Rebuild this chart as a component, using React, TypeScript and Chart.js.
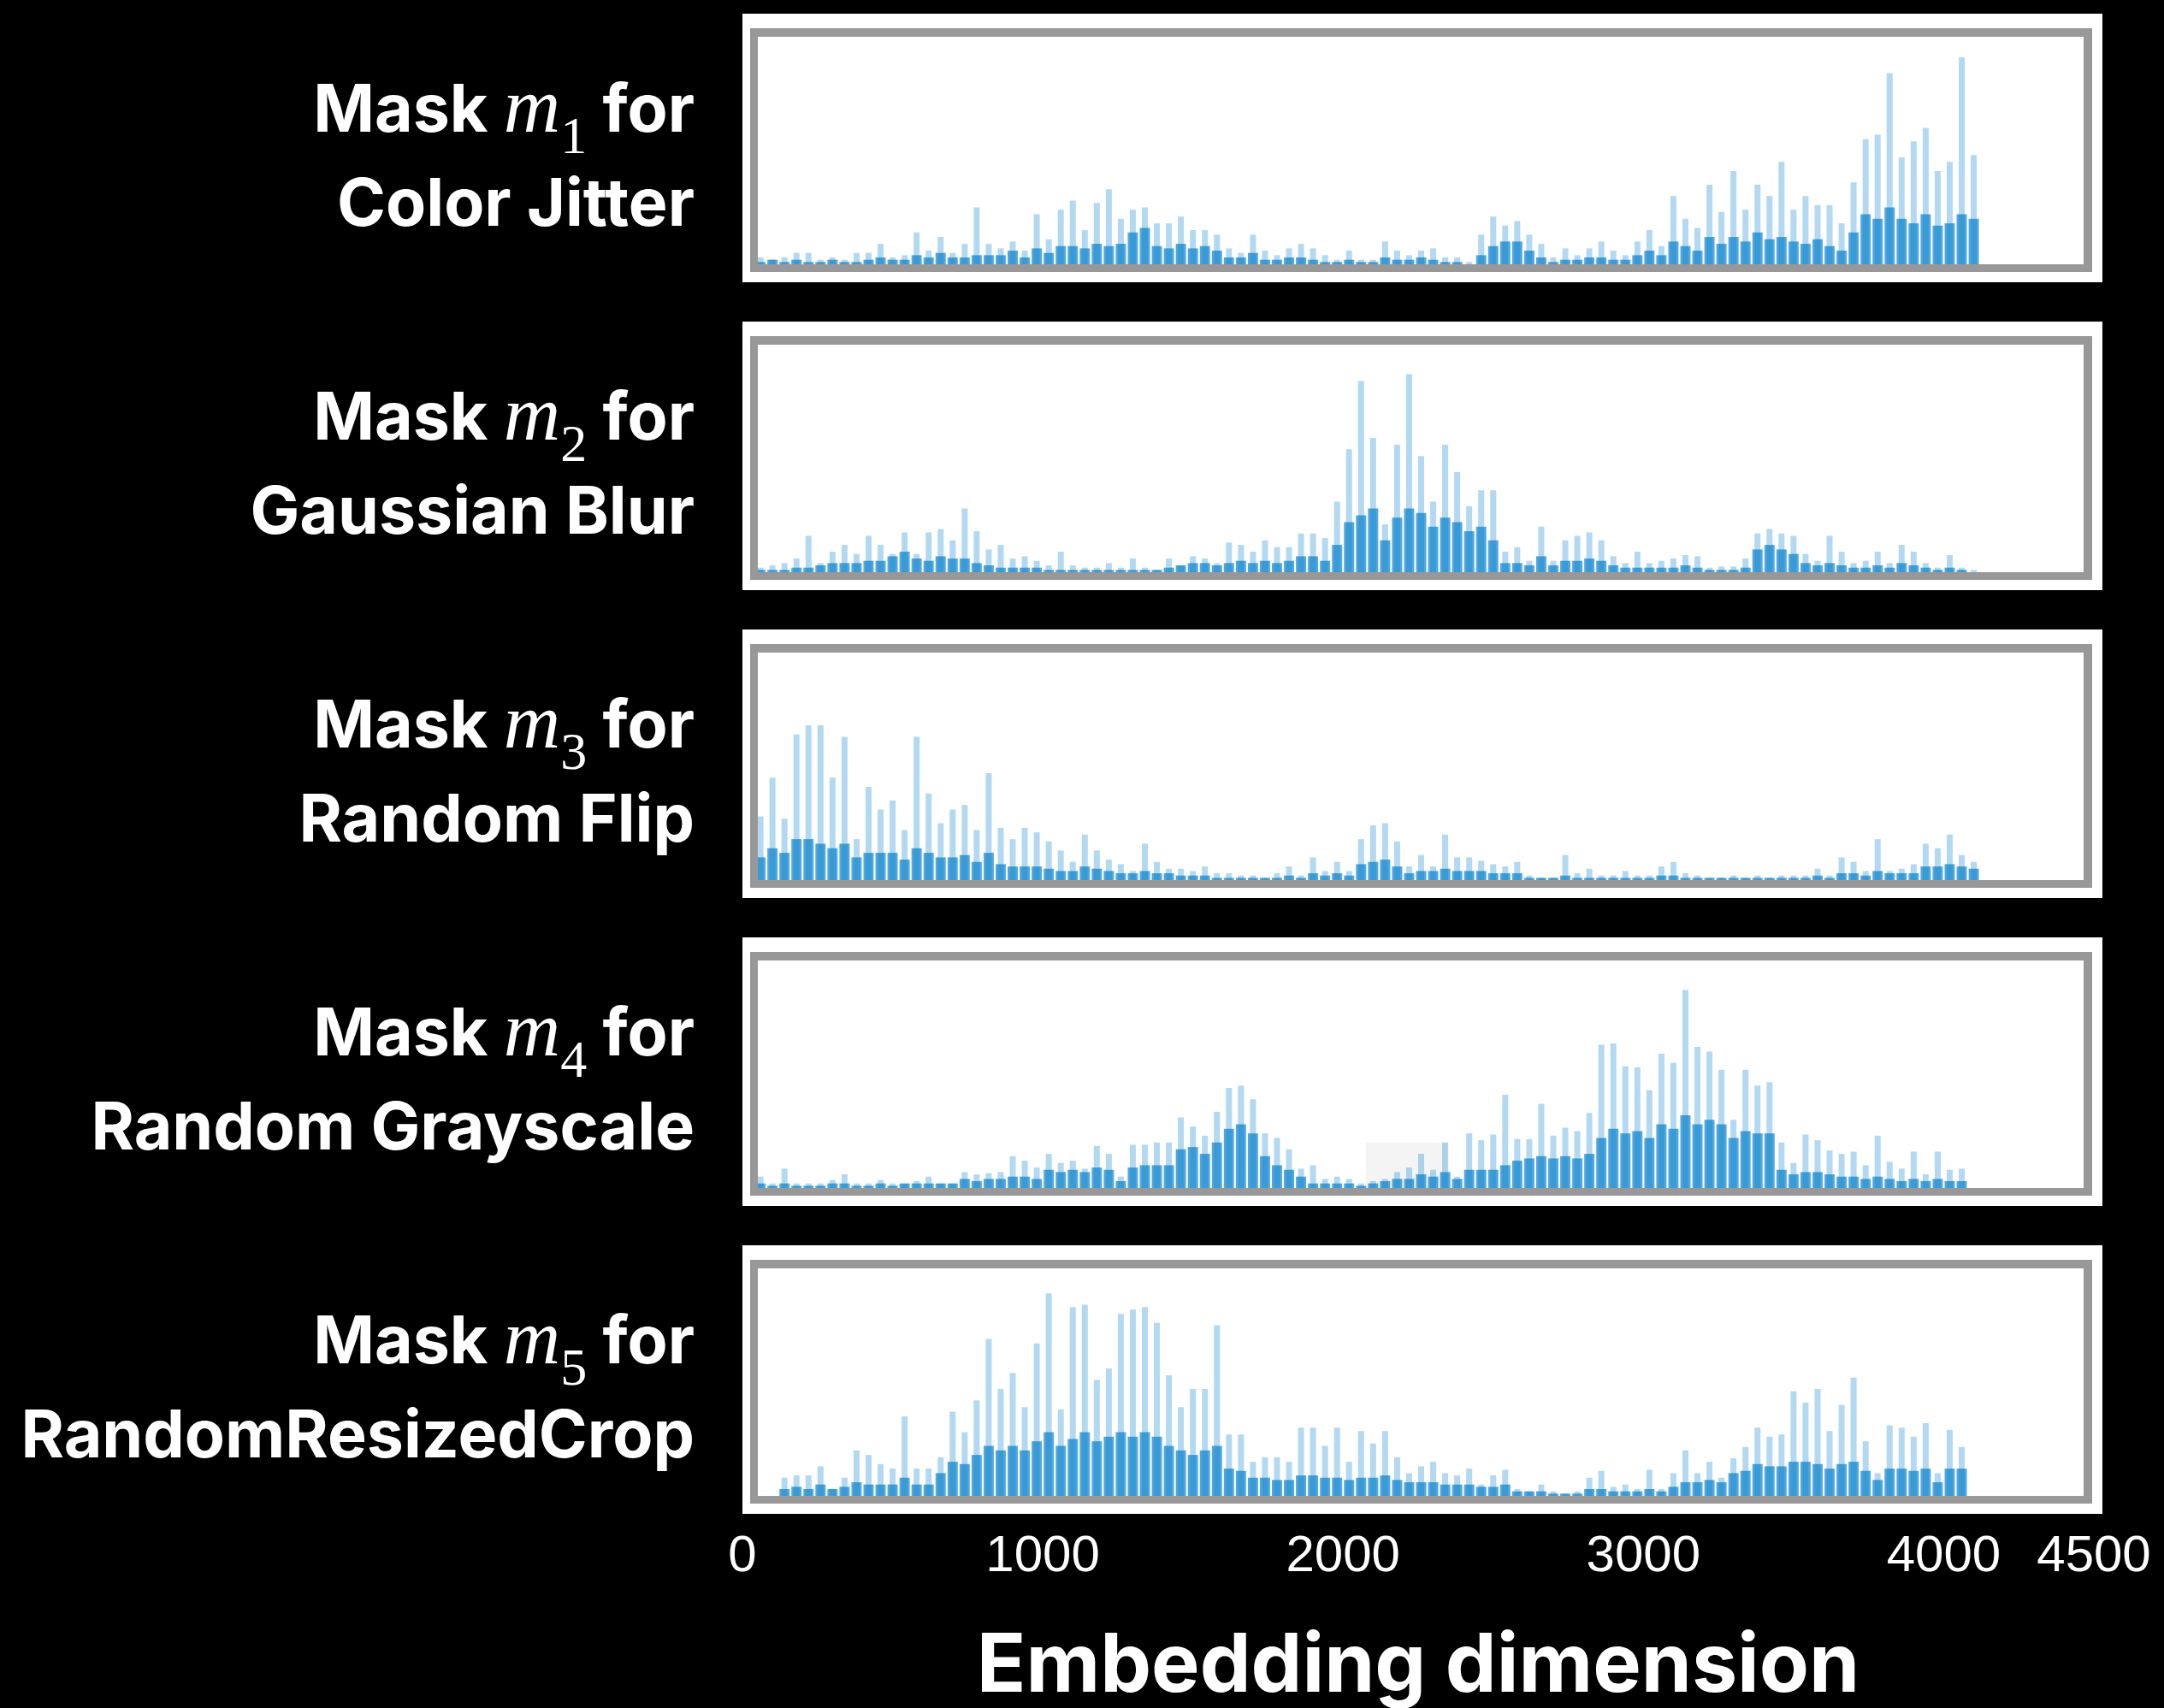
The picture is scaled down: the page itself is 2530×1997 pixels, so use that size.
import React, { useEffect, useRef } from "react";
import { Chart, registerables } from "chart.js";

Chart.register(...registerables);

// ---------- data ----------
// Bars are binned every 40 embedding dimensions, first bin centred at dim 60.
const BIN_START = 60;
const BIN_STEP = 40;
const X_MIN = 0;
const X_MAX = 4500;
const TICK_VALUES = [0, 1000, 2000, 3000, 4000, 4500];
const X_TITLE = "Embedding dimension";

const AUGMENTATIONS = ["Color Jitter", "Gaussian Blur", "Random Flip", "Random Grayscale", "RandomResizedCrop"];
const MASK_INDICES = ["1", "2", "3", "4", "5"];

// mask magnitude (% of panel height): tallest spike per bin, and dense body per bin
const M1_PEAK = [
  3, 2, 3, 5, 5, 2, 3, 2, 5, 5,
  9, 3, 4, 14, 6, 12, 5, 9, 25, 9,
  7, 10, 6, 22, 11, 24, 28, 15, 27, 33,
  20, 24, 25, 18, 18, 21, 15, 15, 13, 7,
  5, 13, 6, 4, 7, 9, 7, 4, 2, 6,
  2, 2, 10, 6, 4, 6, 7, 3, 3, 1,
  13, 21, 17, 19, 13, 9, 3, 7, 4, 7,
  10, 6, 4, 10, 15, 8, 30, 20, 16, 35,
  23, 41, 24, 35, 30, 45, 24, 30, 26, 26,
  18, 36, 55, 57, 84, 47, 54, 60, 41, 45,
  91, 48,
];
const M1_BODY = [
  1, 2, 1, 2, 1, 1, 2, 1, 1, 2,
  3, 2, 2, 4, 3, 5, 3, 3, 4, 4,
  4, 6, 3, 7, 5, 8, 8, 7, 9, 8,
  9, 14, 16, 8, 7, 9, 7, 8, 6, 3,
  3, 5, 2, 2, 3, 3, 2, 1, 1, 2,
  1, 1, 3, 2, 2, 3, 2, 1, 1, 0,
  4, 8, 10, 10, 6, 3, 1, 2, 2, 3,
  3, 2, 2, 4, 6, 4, 10, 8, 6, 12,
  9, 12, 10, 14, 11, 12, 10, 9, 11, 8,
  6, 14, 22, 20, 25, 20, 18, 22, 17, 18,
  22, 20,
];

const M2_PEAK = [
  2, 3, 4, 6, 16, 4, 9, 12, 8, 16,
  12, 8, 17.5, 8, 17.5, 19, 14, 28, 18, 10,
  12, 6, 7, 5, 3, 9, 3, 2, 2, 4,
  2, 6, 2, 1, 6, 3, 7, 6, 4, 13,
  12, 9, 14, 11, 11, 17, 17, 15, 31, 54,
  84, 59, 21, 56, 87, 51, 31, 56, 44, 29,
  36, 36, 9, 11, 5, 20, 5, 14, 16, 17.5,
  14, 7, 4, 9, 4, 5, 6, 7.5, 7, 2,
  2.5, 2.5, 6, 17, 19, 17, 16, 8, 5, 16,
  9, 4, 5, 9, 4, 12, 9, 4, 2, 7.5,
  2, 1,
];
const M2_BODY = [
  1, 1, 1, 2, 2, 3, 4, 4, 4, 5,
  5, 7, 9, 6, 5, 7, 6, 6, 4, 3,
  2, 2, 2, 2, 1, 1, 1, 1, 1, 1,
  1, 1, 1, 1, 2, 3, 4, 4, 3, 4,
  5, 4, 5, 4, 5, 7, 7, 5, 12, 22,
  25, 28, 14, 24, 28, 26, 20, 24, 22, 18,
  20, 14, 4, 4, 3, 7, 3, 5, 5, 6,
  5, 3, 2, 2, 2, 2, 2, 3, 2, 1,
  1, 1, 2, 10, 12, 10, 8, 4, 3, 4,
  3, 2, 2, 3, 2, 4, 3, 2, 1, 2,
  1, 0,
];

const M3_PEAK = [
  28, 45, 27, 64, 68, 68, 45, 63, 18, 41,
  31, 35, 22, 63, 38, 25, 31, 33, 22, 47,
  23, 18, 23, 21, 17, 13, 8, 20, 13, 9,
  7, 4, 16, 8, 5, 5, 4, 6, 3, 3,
  2, 2, 1, 3, 6, 2, 10, 4, 8, 4,
  18, 24, 25, 17, 6, 11, 6, 20, 10, 10,
  8.5, 7, 6, 8, 2, 1, 1, 11, 3, 5,
  2, 2, 4, 2, 2, 6, 8, 3, 2, 1,
  1, 2, 1, 2, 1, 2, 2, 2, 5, 2,
  10, 8, 4, 18, 4, 5, 7, 16, 14, 20,
  11, 8,
];
const M3_BODY = [
  10, 14, 12, 18, 18, 16, 14, 16, 10, 12,
  12, 12, 9, 14, 12, 10, 10, 11, 8, 12,
  7, 6, 6, 6, 5, 4, 4, 6, 5, 4,
  3, 3, 4, 3, 3, 2, 2, 2, 1, 1,
  1, 1, 1, 1, 2, 1, 3, 2, 3, 2,
  7, 8, 9, 6, 3, 4, 4, 5, 4, 4,
  4, 3, 3, 3, 1, 1, 1, 2, 1, 1,
  1, 1, 1, 1, 1, 2, 2, 1, 1, 1,
  1, 1, 1, 1, 1, 1, 1, 1, 2, 1,
  3, 3, 2, 4, 3, 3, 3, 6, 6, 7,
  6, 5,
];

const M4_PEAK = [
  5, 2, 8.5, 2, 2, 2, 3.5, 6, 2, 2,
  3.5, 2, 2, 3, 5, 2, 2, 7, 6, 6.5,
  7, 14, 12, 9, 15, 11, 12, 8.5, 18.5, 15,
  5, 19, 19, 20, 20, 31, 27, 23, 33.5, 44,
  45, 39, 24, 22, 17, 8.5, 10, 4, 5, 4,
  2, 3, 4, 7, 9, 15, 8, 20, 5, 24,
  21, 23.5, 41, 21.5, 21.5, 37, 23, 26.5, 25, 33,
  63, 63.5, 53.5, 53, 43, 59, 55, 87, 62, 60,
  52, 30, 52, 45, 46.5, 20, 11, 23.5, 21, 16.5,
  15, 16, 10, 23, 11.5, 8.5, 16, 6, 16, 8,
  8.5, 0,
];
const M4_BODY = [
  2, 1, 2, 1, 1, 1, 2, 2, 1, 1,
  2, 1, 2, 2, 2, 2, 2, 4, 3, 4,
  4, 5, 5, 4, 8, 7, 8, 7, 9, 8,
  3, 9, 10, 10, 10, 17, 18, 15, 20, 26,
  28, 24, 14, 10, 8, 5, 2, 2, 2, 2,
  1, 2, 3, 4, 4, 6, 5, 7, 4, 8,
  8, 8, 10, 12, 13, 14, 13, 14, 13, 15,
  22, 26, 24, 25, 22, 28, 26, 32, 28, 30,
  28, 22, 25, 24, 24, 8, 6, 7, 7, 6,
  5, 5, 4, 5, 4, 3, 4, 3, 4, 3,
  3, 0,
];

const M5_PEAK = [
  0, 0, 8, 9, 9, 13, 3, 8, 20, 18,
  14, 12, 35, 12, 12, 17, 37, 28, 42, 69,
  47, 54, 39, 67, 89, 38, 83, 84, 51, 56,
  80, 82, 83, 76, 53, 39, 47, 47, 75, 27,
  27, 15, 17, 17, 15, 30, 30, 22, 30, 15,
  28.5, 23, 28.5, 17, 10, 13, 15, 10, 9, 12,
  5, 9, 11.5, 3, 2, 5, 2, 1, 2, 8,
  11, 4, 5, 3, 11.5, 3, 10, 20, 10, 15,
  8, 16.5, 21.5, 30, 26, 27, 46, 41, 47, 28.5,
  40, 52, 24, 10, 31, 30, 26, 32, 10, 29,
  21.5, 0,
];
const M5_BODY = [
  0, 0, 3, 4, 3, 5, 3, 4, 6, 5,
  5, 5, 8, 5, 5, 10, 15, 14, 18, 22,
  20, 22, 20, 24, 28, 22, 25, 28, 24, 26,
  28, 26, 28, 26, 22, 20, 18, 20, 22, 12,
  11, 8, 8, 7, 7, 9, 9, 8, 8, 7,
  8, 8, 9, 7, 6, 6, 6, 5, 5, 5,
  4, 4, 5, 2, 2, 2, 1, 1, 1, 3,
  3, 2, 2, 2, 3, 2, 4, 6, 6, 7,
  6, 10, 11, 14, 13, 13, 15, 15, 14, 12,
  14, 15, 11, 7, 12, 12, 11, 12, 6, 12,
  12, 0,
];

const PEAKS = [M1_PEAK, M2_PEAK, M3_PEAK, M4_PEAK, M5_PEAK];
const BODIES = [M1_BODY, M2_BODY, M3_BODY, M4_BODY, M5_BODY];

// ---------- layout ----------
const FRAME_TOP0 = 33;
const PERIOD = 360;
const AXIS_LEFT = 868; // pixel of x = 0
const AXIS_WIDTH = 1580; // pixels from x = 0 to x = 4500
const PLOT_H = 266;

const SERIF = '"Liberation Serif", "Times New Roman", serif';
const SANS_BOLD = 'Inter, "Noto Sans", sans-serif';

function toPoints(values: number[]) {
  return values.map((v, i) => ({ x: BIN_START + i * BIN_STEP, y: v }));
}

function Panel({ index }: { index: number }) {
  const ref = useRef<HTMLCanvasElement | null>(null);
  useEffect(() => {
    const chart = new Chart(ref.current as HTMLCanvasElement, {
      type: "bar",
      data: {
        datasets: [
          {
            label: "body",
            data: toPoints(BODIES[index]) as any,
            backgroundColor: "rgba(0,125,205,0.68)",
            borderWidth: 0,
            barPercentage: 0.85,
            categoryPercentage: 1,
            grouped: false,
            order: 1,
          } as any,
          {
            label: "peak",
            data: toPoints(PEAKS[index]) as any,
            backgroundColor: "rgba(30,145,215,0.34)",
            borderWidth: 0,
            barPercentage: 0.5,
            categoryPercentage: 1,
            grouped: false,
            order: 2,
          } as any,
        ],
      },
      options: {
        animation: false,
        responsive: false,
        maintainAspectRatio: false,
        events: [],
        layout: { padding: 0 },
        plugins: { legend: { display: false }, tooltip: { enabled: false } },
        scales: {
          x: { type: "linear", min: X_MIN, max: X_MAX, offset: false, display: false },
          y: { min: 0, max: 100, display: false },
        },
      },
    });
    return () => chart.destroy();
  }, [index]);

  const top = FRAME_TOP0 + index * PERIOD;
  return (
    <>
      <div style={{ position: "absolute", left: 868, top: top - 17, width: 1590, height: 314, background: "#fff" }} />
      {index === 3 && (
        <div style={{ position: "absolute", left: 1597, top: top + 223, width: 95, height: 53, background: "#f4f4f4" }} />
      )}
      <canvas
        ref={ref}
        width={AXIS_WIDTH}
        height={PLOT_H}
        style={{ position: "absolute", left: AXIS_LEFT, top: top + 10, width: AXIS_WIDTH, height: PLOT_H }}
      />
      <div
        style={{
          position: "absolute",
          left: 877,
          top,
          width: 1569,
          height: 285,
          boxSizing: "border-box",
          borderStyle: "solid",
          borderColor: "#989898",
          borderWidth: "10px 10px 9px 9px",
        }}
      />
      <div
        style={{
          position: "absolute",
          left: 0,
          top: top + 38,
          width: 812,
          textAlign: "right",
          color: "#fff",
          fontFamily: SANS_BOLD,
          fontWeight: 700,
          fontSize: 77,
          lineHeight: "110px",
          whiteSpace: "nowrap",
        }}
      >
        <div>
          Mask{" "}
          <span style={{ fontFamily: SERIF, fontStyle: "italic", fontWeight: 400, fontSize: 92, lineHeight: 0 }}>m</span>
          <span style={{ fontFamily: SERIF, fontWeight: 400, fontSize: 62, lineHeight: 0, position: "relative", top: 25 }}>
            {MASK_INDICES[index]}
          </span>{" "}
          for
        </div>
        <div>{AUGMENTATIONS[index]}</div>
      </div>
    </>
  );
}

const AXIS_CANVAS_H = 440;

function XAxis() {
  const ref = useRef<HTMLCanvasElement | null>(null);
  useEffect(() => {
    const chart = new Chart(ref.current as HTMLCanvasElement, {
      type: "scatter",
      data: { datasets: [{ data: [] }] },
      options: {
        animation: false,
        responsive: false,
        maintainAspectRatio: false,
        events: [],
        layout: { padding: { left: 100, right: 80, top: 0, bottom: 0 } },
        plugins: { legend: { display: false }, tooltip: { enabled: false } },
        scales: {
          y: { display: false },
          x: {
            type: "linear",
            position: "bottom",
            min: X_MIN,
            max: X_MAX,
            afterBuildTicks: (axis: any) => {
              axis.ticks = TICK_VALUES.map((v) => ({ value: v }));
            },
            grid: { display: false, drawTicks: false },
            border: { display: false },
            ticks: {
              color: "#fff",
              autoSkip: false,
              maxRotation: 0,
              padding: 0,
              font: { family: '"Liberation Sans", Arial, sans-serif', size: 60, lineHeight: 1 },
              callback: (v: any) => String(v),
            },
            title: {
              display: true,
              text: X_TITLE,
              color: "#fff",
              font: { family: SANS_BOLD, weight: "bold", size: 95, lineHeight: 1 },
              padding: { top: 52, bottom: 0 },
            },
          },
        },
      },
    });
    return () => chart.destroy();
  }, []);
  return (
    <canvas
      ref={ref}
      width={1760}
      height={AXIS_CANVAS_H}
      style={{ position: "absolute", left: AXIS_LEFT - 100, top: 1997 - AXIS_CANVAS_H, width: 1760, height: AXIS_CANVAS_H }}
    />
  );
}

export default function App() {
  useEffect(() => {
    document.body.style.margin = "0";
    document.body.style.overflow = "hidden";
    document.body.style.background = "#000";
  }, []);
  return (
    <div style={{ position: "absolute", left: 0, top: 0, width: 2530, height: 1997, background: "#000", overflow: "hidden" }}>
      {AUGMENTATIONS.map((_, i) => (
        <Panel key={i} index={i} />
      ))}
      <XAxis />
    </div>
  );
}
